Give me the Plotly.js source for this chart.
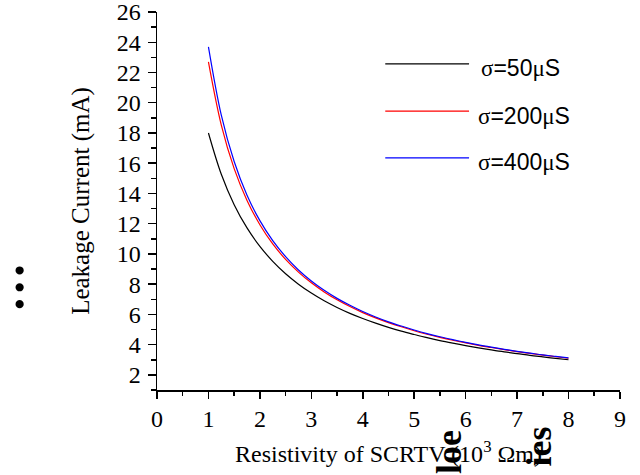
<!DOCTYPE html>
<html>
<head>
<meta charset="utf-8">
<script src="https://cdn.plot.ly/plotly-3.0.1.min.js"></script>
<style>html,body{margin:0;padding:0;background:#fff;}#chart{width:640px;height:475px;}</style>
</head>
<body>
<div id="chart"></div>
<script>
// Resistivity of SCRTV (10^3 Ωm)
const resistivity = [1,1.25,1.5,1.75,2,2.25,2.5,2.75,3,3.25,3.5,3.75,4,4.25,4.5,4.75,5,5.25,5.5,5.75,6,6.25,6.5,6.75,7,7.25,7.5,7.75,8];
// Leakage current (mA)
const sigma50  = [18.00,15.27,13.26,11.72,10.50,9.51,8.69,8.00,7.41,6.90,6.46,6.07,5.73,5.42,5.14,4.89,4.67,4.46,4.27,4.10,3.94,3.79,3.65,3.52,3.41,3.29,3.19,3.09,3.00];
const sigma200 = [22.70,18.52,15.64,13.54,11.93,10.66,9.64,8.80,8.09,7.49,6.97,6.52,6.12,5.77,5.46,5.18,4.92,4.69,4.48,4.29,4.12,3.95,3.81,3.67,3.54,3.42,3.31,3.20,3.10];
const sigma400 = [23.70,19.18,16.11,13.88,12.20,10.88,9.82,8.94,8.21,7.59,7.06,6.60,6.19,5.83,5.51,5.23,4.97,4.73,4.52,4.33,4.15,3.98,3.83,3.69,3.56,3.44,3.32,3.22,3.12];
const seriesNames = ['σ=50μS','σ=200μS','σ=400μS'];
const seriesColors = ['#000000','#ff0000','#0000ff'];
const xTickVals = [0,1,2,3,4,5,6,7,8,9];
const yTickVals = [2,4,6,8,10,12,14,16,18,20,22,24,26];

const serif = 'Liberation Serif';
const sans = 'Liberation Sans';

const seriesData = [sigma50, sigma200, sigma400];
const traces = seriesData.map((ys, i) => ({
  x: resistivity, y: ys, type: 'scatter', mode: 'lines',
  name: seriesNames[i],
  line: {color: seriesColors[i], width: 1.2, shape: 'spline'},
  showlegend: false
}));

// manual legend (line samples + labels)
const legY = [0.863, 0.738, 0.614];
const shapes = [];
const annotations = [];
seriesNames.forEach((nm, i) => {
  shapes.push({type:'line', xref:'paper', yref:'paper', x0:0.493, x1:0.674, y0:legY[i], y1:legY[i],
    line:{color:seriesColors[i], width:1.2}});
  const parts = nm.replace('σ','<span style="font-family:Liberation Serif">σ</span>')
                  .replace('μ','<span style="font-family:Liberation Serif">μ</span>');
  annotations.push({xref:'paper', yref:'paper', x: i===0 ? 0.695 : 0.688, y: legY[i]-0.012,
    xanchor:'left', yanchor:'middle', showarrow:false, text: parts,
    font:{family:sans, size:23, color:'#000'}});
});
// stray text fragments present in the reference picture
annotations.push({xref:'paper', yref:'paper', x:0.826, y:-0.148, xanchor:'center', yanchor:'middle',
  showarrow:false, textangle:-90, text:'<b>ies</b>', font:{family:serif, size:36, color:'#000'}});
annotations.push({xref:'paper', yref:'paper', x:0.632, y:-0.165, xanchor:'center', yanchor:'middle',
  showarrow:false, textangle:-90, text:'<b>loe</b>', font:{family:serif, size:36, color:'#000'}});
annotations.push({xref:'paper', yref:'paper', x:-0.268, y:0.272, xanchor:'center', yanchor:'middle',
  showarrow:false, textangle:90, text:'<b>…</b>', font:{family:serif, size:50, color:'#000'}});

const layout = {
  width: 640, height: 475,
  margin: {l:157, r:20, t:12, b:85},
  paper_bgcolor:'#fff', plot_bgcolor:'#fff',
  showlegend:false,
  xaxis: {
    range:[0,9.001], tickvals:xTickVals, ticktext:xTickVals.map(String),
    showgrid:false, zeroline:false, showline:true, linecolor:'#000', linewidth:1.5,
    ticks:'outside', ticklen:7, tickwidth:1.5, tickcolor:'#000', ticklabeloverflow:'allow',
    minor:{dtick:0.5, tick0:0, ticks:'outside', ticklen:4, tickwidth:1.5, tickcolor:'#000', showgrid:false},
    tickfont:{family:serif, size:24, color:'#000'},
    title:{text:'Resistivity of SCRTV (10<sup>3</sup> Ωm)', font:{family:serif, size:24, color:'#000'}, standoff:14},
    fixedrange:true
  },
  yaxis: {
    range:[1,26.001], tickvals:yTickVals, ticktext:yTickVals.map(String),
    showgrid:false, zeroline:false, showline:true, linecolor:'#000', linewidth:1.5,
    ticks:'outside', ticklen:8, tickwidth:1.5, tickcolor:'#000', ticklabeloverflow:'allow', ticklabelstandoff:2,
    minor:{dtick:1, tick0:1, ticks:'outside', ticklen:5, tickwidth:1.5, tickcolor:'#000', showgrid:false},
    tickfont:{family:serif, size:24, color:'#000'},
    title:{text:'Leakage Current (mA)', font:{family:serif, size:25, color:'#000'}, standoff:20},
    fixedrange:true
  },
  shapes: shapes,
  annotations: annotations
};

Plotly.newPlot('chart', traces, layout, {displayModeBar:false, staticPlot:true});
</script>
</body>
</html>
